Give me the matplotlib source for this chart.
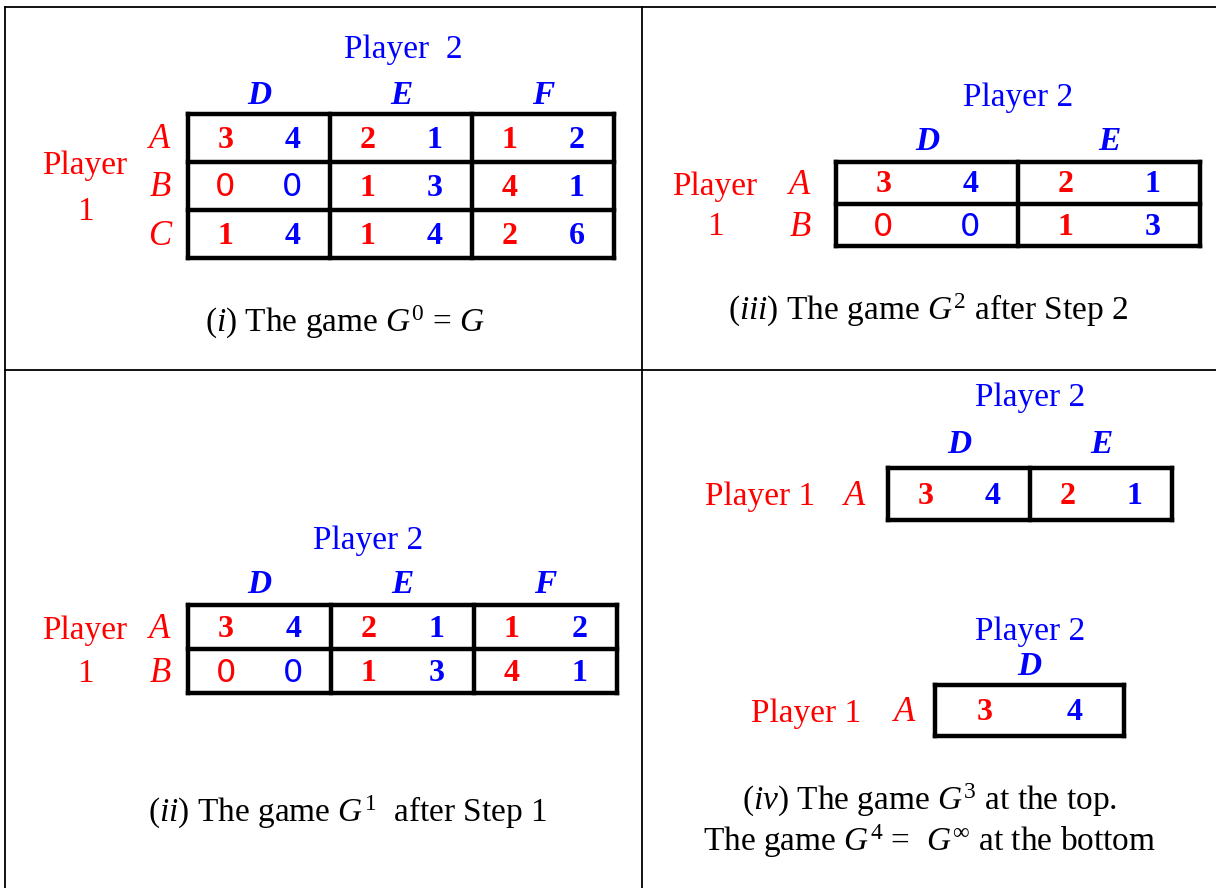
import matplotlib
matplotlib.use("Agg")
import matplotlib.pyplot as plt

plt.rcParams['font.family'] = ['Liberation Serif', 'DejaVu Serif']
plt.rcParams['mathtext.fontset'] = 'custom'
plt.rcParams['mathtext.rm'] = 'Liberation Serif'
plt.rcParams['mathtext.it'] = 'Liberation Serif:italic'

RED = '#ff0000'
BLUE = '#0000ff'

# payoff tables (player 1 payoff, player 2 payoff)
g0_rows = ['A', 'B', 'C']
g0_cols = ['D', 'E', 'F']
g0_p1 = [[3, 2, 1], [0, 1, 4], [1, 1, 2]]
g0_p2 = [[4, 1, 2], [0, 3, 1], [4, 4, 6]]

g1_rows = ['A', 'B']
g1_cols = ['D', 'E', 'F']
g1_p1 = [[3, 2, 1], [0, 1, 4]]
g1_p2 = [[4, 1, 2], [0, 3, 1]]

g2_rows = ['A', 'B']
g2_cols = ['D', 'E']
g2_p1 = [[3, 2], [0, 1]]
g2_p2 = [[4, 1], [0, 3]]

g3_rows = ['A']
g3_cols = ['D', 'E']
g3_p1 = [[3, 2]]
g3_p2 = [[4, 1]]

g4_rows = ['A']
g4_cols = ['D']
g4_p1 = [[3]]
g4_p2 = [[4]]

FS = 24


def num_text(ax, x, y, v, color):
    if v == 0:
        ax.text(x, y + 2, '0', color=color, fontsize=23, family='DejaVu Sans',
                ha='center', va='center')
    else:
        ax.text(x, y + 2, str(v), color=color, fontsize=23, fontweight='bold',
                ha='center', va='center')


def draw_game(ax, rows, cols, p1, p2, x0, y0, cw, rh, row_lab_x,
              head_y, p2_xy, p1_labels):
    nr, nc = len(rows), len(cols)
    # grid
    for i in range(nr + 1):
        ax.plot([x0, x0 + nc * cw], [y0 + i * rh, y0 + i * rh], color='black',
                lw=3.2, solid_capstyle='projecting')
    for j in range(nc + 1):
        ax.plot([x0 + j * cw, x0 + j * cw], [y0, y0 + nr * rh], color='black',
                lw=3.2, solid_capstyle='projecting')
    for j, c in enumerate(cols):
        ax.text(x0 + (j + 0.5) * cw, head_y, c, color=BLUE, fontsize=FS,
                fontweight='bold', style='italic', ha='center', va='center')
    for i, r in enumerate(rows):
        yc = y0 + (i + 0.5) * rh
        ax.text(row_lab_x, yc + 2, r, color=RED, fontsize=FS + 1,
                style='italic', ha='center', va='center')
        for j in range(nc):
            num_text(ax, x0 + (j + 0.25) * cw + 2, yc, p1[i][j], RED)
            num_text(ax, x0 + (j + 0.75) * cw - 2, yc, p2[i][j], BLUE)
    ax.text(p2_xy[0], p2_xy[1], p2_xy[2], color=BLUE, fontsize=FS,
            ha='center', va='center')
    for (lx, ly, s) in p1_labels:
        ax.text(lx, ly, s, color=RED, fontsize=FS, ha='center', va='center')


fig = plt.figure(figsize=(12.16, 8.88), dpi=100)
ax = fig.add_axes([0, 0, 1, 1])
ax.set_xlim(0, 1216)
ax.set_ylim(888, 0)
ax.axis('off')

# panel frame
fk = dict(color='black', lw=1.3)
ax.plot([5, 1216], [7, 7], **fk)
ax.plot([5, 1216], [370, 370], **fk)
ax.plot([5, 5], [7, 888], **fk)
ax.plot([642, 642], [7, 888], **fk)

# (i)
draw_game(ax, g0_rows, g0_cols, g0_p1, g0_p2, 188, 114, 142, 48, 160, 95,
          (403, 50, 'Player  2'), [(85, 166, 'Player'), (85, 212, '1')])
ax.text(345, 322, r'($\mathit{i}$) The game $G^{0}$ = $G$', fontsize=FS,
        ha='center', va='center')

# (iii)
draw_game(ax, g2_rows, g2_cols, g2_p1, g2_p2, 836, 162, 182, 42, 800, 141,
          (1018, 98, 'Player 2'), [(715, 187, 'Player'), (715, 227, '1')])
ax.text(928, 310, r'($\mathit{iii}$) The game $G^{2}$ after Step 2',
        fontsize=FS, ha='center', va='center')

# (ii)
draw_game(ax, g1_rows, g1_cols, g1_p1, g1_p2, 188, 605, 143, 44, 160, 584,
          (368, 541, 'Player 2'), [(85, 631, 'Player'), (85, 674, '1')])
ax.text(348, 812, r'($\mathit{ii}$) The game $G^{1}$  after Step 1',
        fontsize=FS, ha='center', va='center')

# (iv)
draw_game(ax, g3_rows, g3_cols, g3_p1, g3_p2, 888, 468, 142, 52, 855, 444,
          (1030, 398, 'Player 2'), [(760, 497, 'Player 1')])
draw_game(ax, g4_rows, g4_cols, g4_p1, g4_p2, 935, 685, 189, 51, 905, 666,
          (1030, 632, 'Player 2'), [(806, 714, 'Player 1')])
ax.text(930, 800, r'($\mathit{iv}$) The game $G^{3}$ at the top.',
        fontsize=FS, ha='center', va='center')
ax.text(930, 841, r'The game $G^{4}$ =  $G^{\infty}$ at the bottom',
        fontsize=FS, ha='center', va='center')

fig.savefig('out.png', dpi=100)
